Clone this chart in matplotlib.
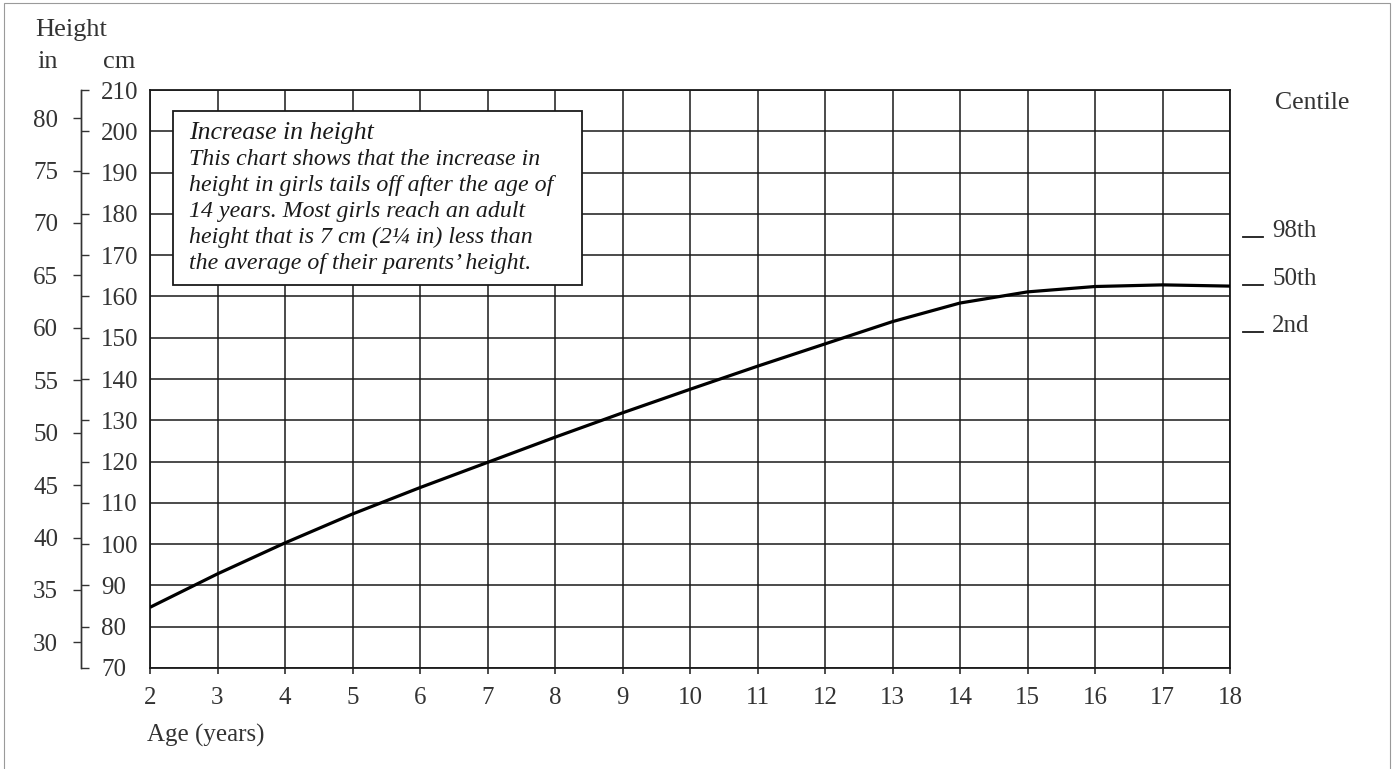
import numpy as np
import matplotlib
matplotlib.use("Agg")
import matplotlib.pyplot as plt
from matplotlib.patches import Rectangle
from matplotlib.transforms import blended_transform_factory

# Datos (centil 50, niñas)
edades = [2, 3, 4, 5, 6, 7, 8, 9, 10, 11, 12, 13, 14, 15, 16, 17, 18]
altura_cm = [84.7, 92.8, 100.3, 107.3, 113.7, 119.8, 125.9, 131.8, 137.5,
             143.1, 148.5, 153.9, 158.4, 161.1, 162.4, 162.8, 162.5]

ticks_cm = list(range(70, 211, 10))
ticks_in = list(range(30, 81, 5))
ticks_edad = list(range(2, 19))

centiles = ["98th", "50th", "2nd"]
centiles_cm = [174.5, 162.7, 151.3]

texto_titulo = "Increase in height"
texto_cuerpo = ("This chart shows that the increase in\n"
                "height in girls tails off after the age of\n"
                "14 years. Most girls reach an adult\n"
                "height that is 7 cm (2¼ in) less than\n"
                "the average of their parents’ height.")

plt.rcParams["font.family"] = ["Liberation Serif", "DejaVu Serif"]
TINTA = "#1a1a1a"
GRIS = "#333333"

fig = plt.figure(figsize=(13.96, 7.69), dpi=100)
fig.patch.set_facecolor("white")
ax = fig.add_axes([150 / 1396, 101 / 769, 1080 / 1396, 578 / 769])

# Marco de la página escaneada
fig.add_artist(Rectangle((4 / 1396, -0.05), 1386 / 1396, 1.05 - 3 / 769,
                         transform=fig.transFigure, fill=False,
                         ec="#9a9a9a", lw=0.8))

ax.set_xlim(2, 18)
ax.set_ylim(70, 210)
ax.set_xticks(ticks_edad)
ax.set_yticks(ticks_cm)
ax.grid(True, color=TINTA, lw=1.1)
ax.set_axisbelow(True)
for s in ax.spines.values():
    s.set_color(TINTA)
    s.set_linewidth(1.3)
ax.tick_params(axis="y", left=False, labelleft=False)
ax.tick_params(axis="x", direction="out", length=4, width=1.1, color=TINTA,
               labelsize=18, labelcolor=GRIS, pad=10)

ax.plot(edades, altura_cm, color="black", lw=2.3, solid_capstyle="butt",
        zorder=3)

# Eje en cm (marcas hacia la derecha) y eje en pulgadas (hacia la izquierda)
pos_eje = (81 - 150) / 1080
sec_cm = ax.secondary_yaxis(pos_eje)
sec_cm.set_alignment("right")
sec_cm.set_yticks(ticks_cm)
sec_cm.tick_params(direction="out", length=5.5, width=1.0, color=GRIS,
                   labelsize=18, labelcolor=GRIS, pad=9)
sec_cm.spines["right"].set_color(GRIS)
sec_cm.spines["right"].set_linewidth(1.0)

sec_in = ax.secondary_yaxis(pos_eje, functions=(lambda c: c / 2.54,
                                                lambda i: i * 2.54))
sec_in.set_alignment("left")
sec_in.set_yticks(ticks_in)
sec_in.tick_params(direction="out", length=5.5, width=1.0, color=GRIS,
                   labelsize=18, labelcolor=GRIS, pad=11)
sec_in.spines["left"].set_color(GRIS)
sec_in.spines["left"].set_linewidth(1.0)

# Recuadro explicativo
ax.add_patch(Rectangle((23 / 1080, 383 / 578), 409 / 1080, 174 / 578,
                       transform=ax.transAxes, fc="white", ec=TINTA,
                       lw=1.3, zorder=4))
ax.text(39 / 1080, (668 - 133) / 578, texto_titulo,
        transform=ax.transAxes, ha="left", va="center", fontsize=18.5,
        style="italic", color=TINTA, zorder=5)
ax.text(39 / 1080, (668 - 149) / 578, texto_cuerpo,
        transform=ax.transAxes, ha="left", va="top", fontsize=17.2,
        style="italic", color=TINTA, linespacing=1.31, zorder=5)

# Centiles a la derecha
tr = blended_transform_factory(ax.transAxes, ax.transData)
for nombre, y in zip(centiles, centiles_cm):
    ax.plot([1.012, 1.031], [y, y], transform=tr, color=TINTA, lw=1.3,
            clip_on=False)
    ax.text(1.039, y, nombre, transform=tr, ha="left", va="baseline",
            fontsize=18, color=GRIS, clip_on=False)

fig.text(1275 / 1396, 1 - 103 / 769, "Centile", ha="left", va="center",
         fontsize=18.5, color=GRIS)
fig.text(35 / 1396, 1 - 30 / 769, "Height", ha="left", va="center",
         fontsize=19, color=GRIS)
fig.text(37 / 1396, 1 - 62 / 769, "in", ha="left", va="center",
         fontsize=19, color=GRIS)
fig.text(103 / 1396, 1 - 62 / 769, "cm", ha="left", va="center",
         fontsize=19, color=GRIS)
fig.text(147 / 1396, 1 - 735 / 769, "Age (years)", ha="left", va="center",
         fontsize=18, color=GRIS)

fig.savefig("out.png", dpi=100)
